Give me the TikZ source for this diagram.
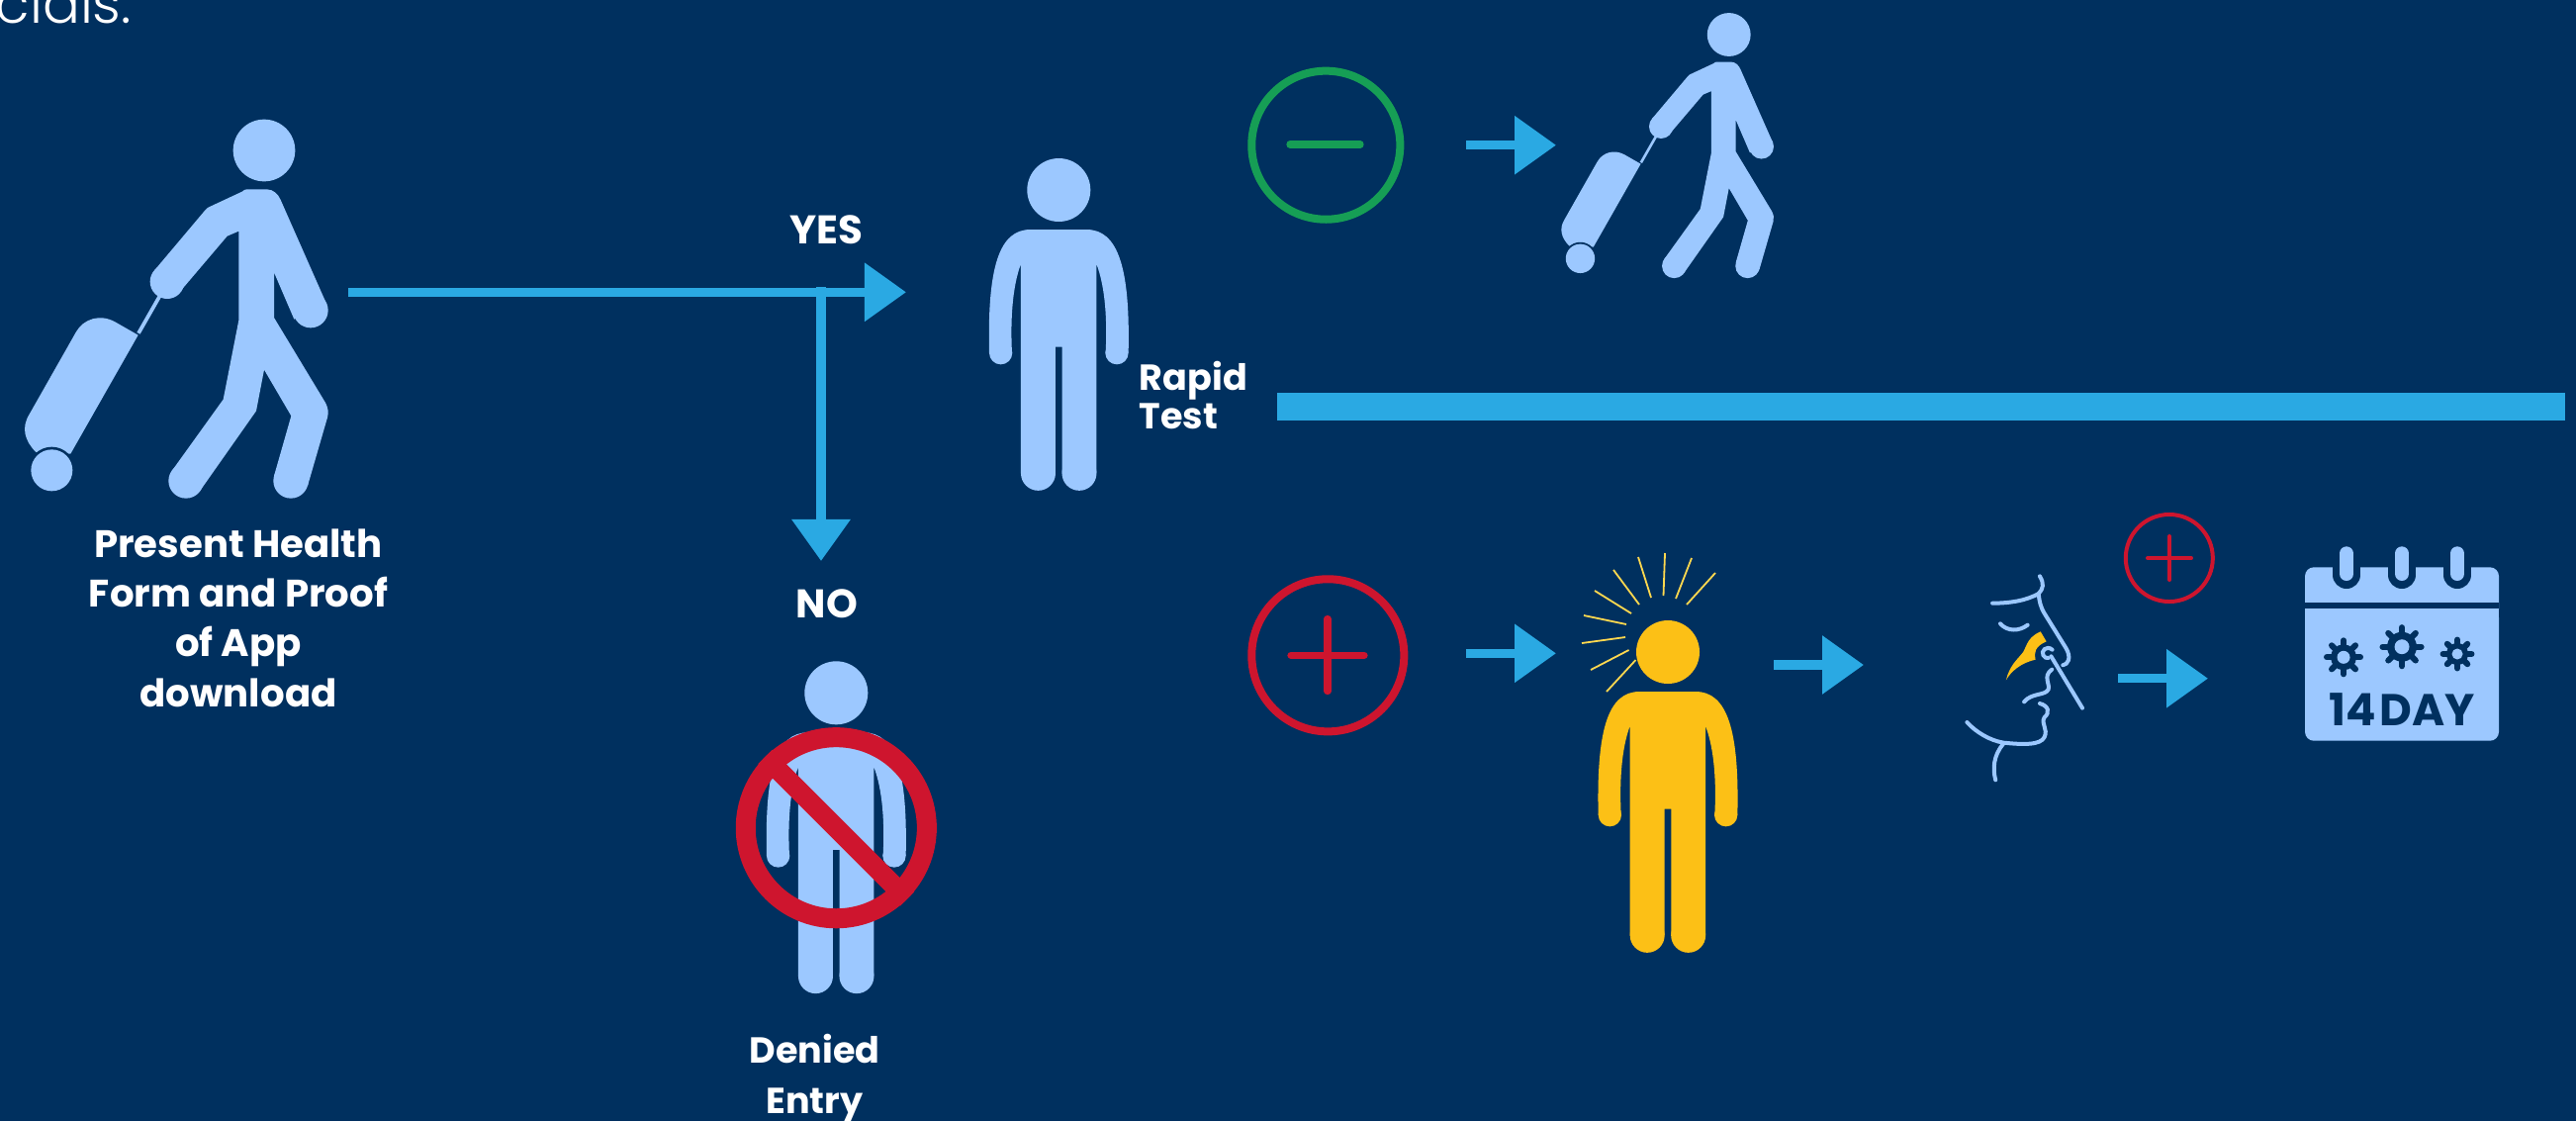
\documentclass[tikz,border=0pt]{standalone}
\usepackage{fontspec}
\setmainfont{Poppins}
\newfontfamily\thinfont{Poppins Light}
\usetikzlibrary{arrows.meta}
\definecolor{navy}{HTML}{00305F}
\definecolor{sky}{HTML}{9CC8FF}
\definecolor{aqua}{HTML}{2AA9E3}
\definecolor{alarm}{HTML}{CE152E}
\definecolor{clear}{HTML}{169E55}
\definecolor{amber}{HTML}{FCC016}
\definecolor{beam}{HTML}{FFD84F}

\tikzset{
  standing/.pic={
    \begin{scope}[scale=1/3,shift={(-331,-186)}]
      \path[pic actions] (331,186) circle (96);
      \path[pic actions] (245,306) -- (415,306) .. controls (510,306) and (548,420) .. (542,680)
        -- (473,680) .. controls (478,580) and (472,480) .. (445,410) -- (445,1045) -- (341,1045)
        -- (341,662) -- (321,662) -- (321,1045) -- (216,1045) -- (216,410)
        .. controls (190,480) and (184,580) .. (189,680) -- (120,680)
        .. controls (114,420) and (150,306) .. (245,306) -- cycle;
      \path[pic actions] (507,680) circle (35) (155,680) circle (35)
        (393,1045) circle (52.5) (268.500,1045) circle (52.5);
    \end{scope}
  },
  walker/.pic={
    \begin{scope}[scale=1/3,shift={(-802,-185)}]
      \path[pic actions] (802,185) circle (94);
      \path[pic actions] (750,303) -- (810,303) .. controls (830,303) and (845,318) .. (852,335)
        -- (992,652) -- (893,697) -- (832,555) -- (832,692) -- (988,950)
        .. controls (996,965) and (998,980) .. (994,995) -- (934,1202) -- (832,1172) -- (884,990)
        -- (802,850) -- (778,975) -- (607,1218) -- (522,1157) -- (678,940) -- (725,700) -- (725,430)
        -- (690,445) -- (548,612) -- (470,548) -- (620,370) .. controls (628,360) and (635,355) .. (645,352)
        -- (735,310) .. controls (740,305) and (745,303) .. (750,303) -- cycle;
      \path[pic actions] (943,670) circle (53) (883,1187) circle (53) (565,1187) circle (53)
        (508,583) circle (52);
      \path[pic actions] (420,745) -- (215,1105) -- (110,1100) .. controls (75,1065) and (65,1025) .. (90,985)
        -- (232,735) .. controls (255,695) and (305,680) .. (350,705) -- cycle;
      \fill[navy] (158,1155) circle (71);
      \path[pic actions] (158,1155) circle (63);
      \path[pic actions] (480,625) -- (490,630) -- (426,742) -- (416,737) -- cycle;
    \end{scope}
  },
  label/.style={text=white, font=\fontsize{10.4}{14.3}\selectfont\bfseries, align=center, inner sep=0pt},
  flow/.style={-{Triangle[length=0.42cm,width=0.57cm]}, aqua, line width=0.095cm},
  ring/.style={line width=0.08cm, inner sep=0pt},
  tick/.style={line width=0.073cm, line cap=round},
  face/.style={sky, line width=0.04cm, line cap=round},
  ray/.style={beam, line width=0.018cm},
  hole/.style={navy, line width=0.06cm, line cap=round},
}

\begin{document}
\begin{tikzpicture}[x=0.01cm,y=-0.01cm]
\useasboundingbox (0,0) rectangle (2604,1133);
\fill[navy] (0,0) rectangle (2604,1133);

% clipped line of text at the top
\node[anchor=base west, text=white, inner sep=0pt, font=\thinfont\fontsize{16}{16}\selectfont] (cut) at (-5,23) {cials.};

% travellers
\pic[fill=sky] (first) at (267,152) {walker};
\pic[fill=sky] (tested) at (1070.3,192) {standing};
\pic[fill=sky] (denied) at (845.3,700.3) {standing};
\pic[fill=sky,scale=0.7] (cleared) at (1747.7,35) {walker};
\pic[fill=amber] (sick) at (1686,659) {standing};

\node[label, anchor=base, font=\fontsize{11}{14.3}\selectfont\bfseries] (form) at (241,714) {Present Health\\Form and Proof\\of App\\download};
\node[label, font=\fontsize{11.5}{14}\selectfont\bfseries] (yes) at (835.7,232) {YES};
\node[label, font=\fontsize{11.5}{14}\selectfont\bfseries] (no) at (836,610) {NO};
\node[label, anchor=base] (entry) at (823.5,1125) {Denied\\Entry};
\node[label, align=left, anchor=base west, font=\fontsize{10.4}{9.5}\selectfont\bfseries] (rapid) at (1151,433) {Rapid\\Test};

% no entry sign
\node[circle, draw=alarm, line width=0.2cm, minimum size=1.83cm, inner sep=0pt] (nosign) at (845.3,836.7) {};
\draw[alarm, line width=0.2cm] (nosign.135) -- (nosign.-45);

% yes / no arrows
\coordinate (start) at (352,295.3);
\coordinate (yestip) at (916,295.3);
\coordinate (split) at (830,290);
\coordinate (notip) at (830,567);
\draw[flow] (start) -- (yestip);
\draw[flow] (split) -- (notip);

% divider
\fill[aqua] (1291,397) rectangle (2593,424.5);

% test results
\node[circle, draw=clear, ring, minimum size=1.5cm] (minus) at (1340.3,146.7) {};
\draw[clear, tick] (1304,146) -- (1375,146);
\node[circle, draw=alarm, ring, minimum size=1.54cm] (plus) at (1342.3,662.3) {};
\draw[alarm, tick] (1305,662.3) -- (1379,662.3) (1342,625.5) -- (1342,698.5);
\node[circle, draw=alarm, line width=0.04cm, minimum size=0.88cm, inner sep=0pt] (retest) at (2192.8,564) {};
\draw[alarm, line width=0.04cm, line cap=round] (2171,564) -- (2215,564) (2193,542) -- (2193,586);

% flow arrows
\foreach \name/\xa/\xb/\yy in {a/1482/1573/146.7, b/1482/1573/660.3, c/1793/1884/672, d/2141/2232/685.7}{
  \coordinate (\name1) at (\xa,\yy);
  \coordinate (\name2) at (\xb,\yy);
  \draw[flow] (\name1) -- (\name2);
}

% rays round the head
\draw[ray] (1653.5,667) -- (1624,699);
\draw[ray] (1646.5,657) -- (1608,677);
\draw[ray] (1643,644) -- (1599,650);
\draw[ray] (1644,631) -- (1601,622);
\draw[ray] (1649,620) -- (1612,597);
\draw[ray] (1657,611) -- (1631,576);
\draw[ray] (1669,604) -- (1656,563);
\draw[ray] (1681.5,602) -- (1683,559);
\draw[ray] (1694,605) -- (1710,564);
\draw[ray] (1705,611) -- (1734,579);

% swab
\begin{scope}[shift={(1950,510)},xscale=0.3954,yscale=0.3333]
  \fill[amber] (285,385) -- (300,415) .. controls (270,430) and (268,450) .. (272,470)
    .. controls (235,480) and (210,505) .. (197,532) .. controls (205,490) and (225,470) .. (235,455)
    .. controls (250,440) and (245,405) .. (285,385) -- cycle;
  \draw[face] (162,299) .. controls (210,299) and (250,290) .. (280,270)
    .. controls (292,255) and (295,240) .. (283,217);
  \draw[face] (280,270) .. controls (282,295) and (285,310) .. (295,330) -- (350,435)
    .. controls (365,465) and (355,485) .. (342,487);
  \draw[face] (182,361) .. controls (200,385) and (230,385) .. (252,365);
  \draw[face] (312,460) -- (392,617);
  \draw[face] (315,440) .. controls (300,425) and (285,445) .. (292,457) .. controls (295,465) and (300,465) .. (305,465);
  \draw[face] (314,500) .. controls (290,520) and (310,545) .. (305,560)
    .. controls (298,580) and (262,570) .. (243,598);
  \draw[face] (283,603) .. controls (305,610) and (310,630) .. (295,645)
    .. controls (285,665) and (305,680) .. (295,705) .. controls (285,730) and (240,728) .. (190,722)
    .. controls (155,715) and (120,690) .. (97,660);
  \draw[face] (190,725) .. controls (165,760) and (162,800) .. (170,835);
\end{scope}

% calendar
\fill[sky, rounded corners=0.09cm] (2330,573.3) rectangle (2526,625);
\fill[navy] (2330,608.7) rectangle (2526,615.3);
\fill[sky, rounded corners=0.09cm] (2330,615.3) rectangle (2526,748.7);
\fill[sky] (2330,615.3) rectangle (2526,640);
\foreach \xx in {2372,2428,2484}{
  \draw[navy, line width=0.28cm, line cap=round] (\xx,573) -- (\xx,581);
  \draw[sky, line width=0.14cm, line cap=round] (\xx,559.3) -- (\xx,580);
}
\foreach \xx/\yy/\rr in {2369/664.3/1, 2428/653.7/1.15, 2484/661/0.85}{
  \begin{scope}[shift={(\xx,\yy)},scale=\rr]
    \foreach \ang in {0,45,...,315}{
      \draw[hole] (0,0) -- (\ang:17);
    }
    \fill[navy] (0,0) circle (13);
    \fill[sky] (0,0) circle (6.5);
  \end{scope}
}
\node[text=navy, inner sep=0pt, font=\fontsize{12.8}{14}\selectfont\bfseries] (days) at (2428,716.7) {\spaceskip=0.08em\relax 14 DAY};
\end{tikzpicture}
\end{document}
